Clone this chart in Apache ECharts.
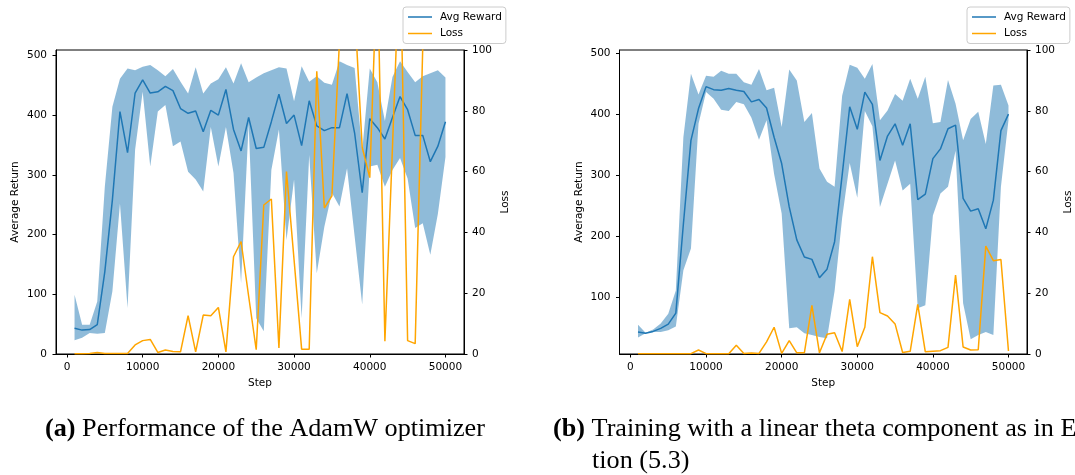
<!DOCTYPE html>
<html><head><meta charset="utf-8">
<script src="https://cdn.jsdelivr.net/npm/echarts@6/dist/echarts.min.js"></script>
<style>html,body{margin:0;padding:0;background:#fff}#c{width:1075px;height:475px}</style>
</head><body><div id="c"></div>
<script>
const steps = [1000,2000,3000,4000,5000,6000,7000,8000,9000,10000,11000,12000,13000,14000,15000,16000,17000,18000,19000,20000,21000,22000,23000,24000,25000,26000,27000,28000,29000,30000,31000,32000,33000,34000,35000,36000,37000,38000,39000,40000,41000,42000,43000,44000,45000,46000,47000,48000,49000,50000];
const xTicks = [0,10000,20000,30000,40000,50000];
const returnTicksA = [0,100,200,300,400,500];
const returnTicksB = [100,200,300,400,500];

// (a) AdamW
const meanA  = [43,40,41,49,138,258,406,337,437,459,437,439,448,441,411,403,407,372,408,400,443,376,340,396,344,346,389,435,386,400,349,424,382,374,379,379,436,370,270,394,379,360,396,431,409,366,366,322,348,389];
const upperA = [99,49,49,88,280,414,461,478,475,481,484,475,465,477,456,436,480,436,453,460,480,453,487,455,463,470,475,480,478,423,482,456,465,454,451,490,484,479,340,478,455,390,464,490,472,455,465,470,475,463];
const lowerA = [23,27,35,34,35,105,252,77,342,439,314,406,417,348,356,305,292,272,380,314,380,303,119,385,60,38,308,376,191,292,60,333,135,213,270,247,311,197,83,314,317,280,308,328,294,211,219,166,235,330];
const lossA  = [0.1,0.1,0.2,0.5,0.2,0.2,0.2,0.2,3,4.4,4.8,0.5,1.3,0.8,0.7,12.6,0.7,12.8,12.6,15.3,0.7,32,37,19,1.4,49,51,2,60,31,1.6,1.6,93,48,52,103,140,114,68,58,130,4.2,68,135,4.4,3.4,101,150,170,190];

// (b) linear theta
const meanB  = [43,41,44,49,56,74,220,357,409,445,440,439,442,439,437,420,424,410,362,319,248,194,166,162,132,146,191,300,412,375,436,416,324,364,384,349,384,260,269,327,343,376,382,262,241,245,212,259,373,400];
const upperB = [55,42,47,57,73,111,362,466,432,463,461,471,466,466,452,448,474,439,443,379,473,455,387,402,311,289,281,430,481,476,458,482,390,406,433,422,458,425,461,385,387,456,417,357,392,404,351,447,448,414];
const lowerB = [34,41,43,43,46,52,144,180,384,436,425,407,405,420,416,394,358,390,302,237,49,51,41,38,35,33,110,230,320,263,405,380,248,286,324,275,286,82,87,234,270,281,340,90,31,38,43,38,281,390];
const lossB  = [0.1,0.1,0.1,0.1,0.1,0.1,0.1,0.1,1.3,0.1,0.1,0.1,0.1,2.9,0.2,0.3,0.2,4,8.8,0.2,4.4,0.4,0.4,16,0.4,6.5,7,0.8,18,2.4,8.8,32,13.6,12.5,9.9,0.5,0.9,16.3,0.7,0.9,1.1,2.2,26,2.3,1.3,1.4,35.5,30.7,31.1,1];

const FONT = 'DejaVu Sans';
const BLUE = '#1f77b4', ORANGE = '#ffa500';
const pair = arr => steps.map((s, i) => [s, arr[i]]);

function seriesFor(g, mean, lower, upper, loss) {
  const base = { type: 'line', xAxisIndex: g, symbol: 'none', showSymbol: false };
  return [
    { type: 'custom', name: 'band' + g, xAxisIndex: g, yAxisIndex: g * 2,
      data: steps.map((s, i) => [s, lower[i], upper[i]]),
      encode: { x: 0, y: [1, 2] }, clip: true, silent: true, z: 1,
      renderItem: function (params, api) {
        if (params.dataIndex !== 0) return null;
        const top = [], bot = [];
        for (let i = 0; i < steps.length; i++) {
          top.push(api.coord([steps[i], upper[i]]));
          bot.push(api.coord([steps[i], lower[i]]));
        }
        return { type: 'polygon', shape: { points: top.concat(bot.reverse()) },
          style: { fill: BLUE, opacity: 0.5 } };
      } },
    Object.assign({}, base, { name: 'Avg Reward', yAxisIndex: g * 2, data: pair(mean),
      lineStyle: { color: BLUE, width: 1.5 }, itemStyle: { color: BLUE }, z: 2 }),
    Object.assign({}, base, { name: 'Loss', yAxisIndex: g * 2 + 1, data: pair(loss),
      lineStyle: { color: ORANGE, width: 1.5 }, itemStyle: { color: ORANGE }, z: 3 })
  ];
}

const labelStyle = { fontFamily: FONT, fontSize: 10.5, color: '#000' };
const axisLineStyle = { show: true, onZero: false, lineStyle: { color: '#000', width: 1 } };
const plain = v => String(v);

function xAxisFor(g) {
  return { type: 'value', gridIndex: g, min: -1450, max: 52450,
    name: 'Step', nameLocation: 'middle', nameGap: 21, nameTextStyle: labelStyle,
    axisLine: axisLineStyle,
    axisTick: { show: true, length: 3.5, customValues: xTicks, lineStyle: { color: '#000' } },
    axisLabel: Object.assign({ customValues: xTicks, margin: 8, formatter: plain }, labelStyle),
    splitLine: { show: false } };
}
function yLeftFor(g, min, max, ticks) {
  return { type: 'value', gridIndex: g, position: 'left', min: min, max: max,
    name: 'Average Return', nameLocation: 'middle', nameRotate: 90, nameGap: 35, nameTextStyle: labelStyle,
    axisLine: axisLineStyle,
    axisTick: { show: true, length: 3.5, customValues: ticks, lineStyle: { color: '#000' } },
    axisLabel: Object.assign({ customValues: ticks, margin: 9, formatter: plain }, labelStyle),
    splitLine: { show: false } };
}
function yRightFor(g) {
  return { type: 'value', gridIndex: g, position: 'right', min: 0, max: 100, interval: 20,
    name: 'Loss', nameLocation: 'middle', nameRotate: 90, nameGap: 36, nameTextStyle: labelStyle,
    axisLine: axisLineStyle,
    axisTick: { show: true, length: 3.5, lineStyle: { color: '#000' } },
    axisLabel: Object.assign({ margin: 8, formatter: plain }, labelStyle),
    splitLine: { show: false } };
}
function legendFor(left) {
  return { left: left, top: 7, orient: 'vertical', data: ['Avg Reward', 'Loss'],
    icon: 'rect', itemWidth: 24, itemHeight: 1.5, itemGap: 4.5, padding: [4, 4, 4, 5],
    itemStyle: { borderWidth: 0 },
    backgroundColor: 'rgba(255,255,255,0.8)', borderColor: '#cccccc', borderWidth: 1, borderRadius: 3,
    textStyle: { fontFamily: FONT, fontSize: 10.5, color: '#000', lineHeight: 12, padding: [0, 0, 0, 3] },
    selectedMode: false };
}

const chart = echarts.init(document.getElementById('c'), null, { renderer: 'canvas' });
chart.setOption({
  animation: false,
  backgroundColor: '#fff',
  grid: [
    { left: 56, top: 50, width: 408, height: 304, show: true, borderColor: '#000', borderWidth: 1, backgroundColor: 'transparent' },
    { left: 619.5, top: 50, width: 409, height: 304, show: true, borderColor: '#000', borderWidth: 1, backgroundColor: 'transparent' }
  ],
  xAxis: [xAxisFor(0), xAxisFor(1)],
  yAxis: [yLeftFor(0, 0, 509, returnTicksA), yRightFor(0), yLeftFor(1, 7, 505, returnTicksB), yRightFor(1)],
  legend: [legendFor(403), legendFor(967)],
  series: [].concat(seriesFor(0, meanA, lowerA, upperA, lossA), seriesFor(1, meanB, lowerB, upperB, lossB)),
  graphic: [
    { type: 'text', x: 45, y: 429, style: { text: '{b|(a)} Performance of the AdamW optimizer',
      font: '26.2px "Liberation Serif"', fill: '#000', verticalAlign: 'middle',
      rich: { b: { fontFamily: 'Liberation Serif', fontSize: 26.2, fontWeight: 'bold', fill: '#000' } } } },
    { type: 'text', x: 553, y: 429, style: { text: '{b|(b)} Training with a linear theta component as in Equa-',
      font: '26.2px "Liberation Serif"', fill: '#000', verticalAlign: 'middle',
      rich: { b: { fontFamily: 'Liberation Serif', fontSize: 26.2, fontWeight: 'bold', fill: '#000' } } } },
    { type: 'text', x: 592, y: 461, style: { text: 'tion (5.3)',
      font: '26.2px "Liberation Serif"', fill: '#000', verticalAlign: 'middle' } }
  ]
});
</script></body></html>
